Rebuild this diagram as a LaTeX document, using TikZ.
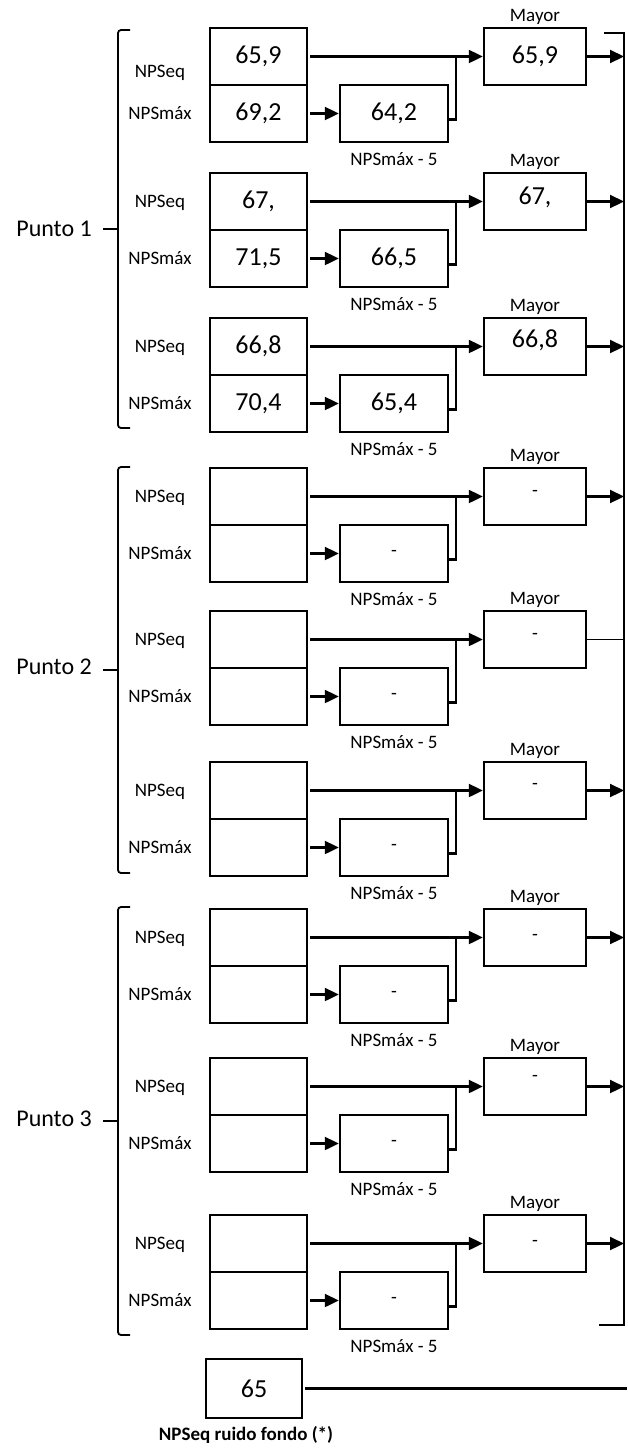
\documentclass[tikz,border=0pt]{standalone}
\usepackage{fontspec}
\setmainfont{Carlito}
\usetikzlibrary{arrows.meta}
\newcommand\valfnt{\fontsize{26}{30}\selectfont}
\newcommand\lblfnt{\fontsize{19}{22}\selectfont}
\newcommand\ptfnt{\fontsize{24}{28}\selectfont}
\newcommand\dsh{{\lblfnt -}}
\begin{document}
\begin{tikzpicture}[x=1pt,y=-1pt,
  vbox/.style={draw,line width=2.4pt,inner sep=0pt,font=\valfnt},
  lbl/.style={inner sep=0pt,font=\lblfnt},
  ptlbl/.style={inner sep=0pt,font=\ptfnt},
  conn/.style={line width=2.2pt},
  thinconn/.style={line width=1.4pt},
  arr/.style={-{Triangle[length=14pt,width=13pt]}},
  brk/.style={line width=1.8pt,rounded corners=3pt},
]
\useasboundingbox[fill=white] (0,0) rectangle (627,1452);
\coordinate (rb) at (624,0);
% right bracket
\draw[line width=2pt] (604,33) -- (624,33) -- (624,1325) -- (599,1325);
% left brackets
\draw[brk] (130,30) -- (118,30) -- (118,428) -- (130,428);
\draw[line width=1.8pt] (103,229) -- (118,229);
\node[ptlbl,anchor=east] (p1) at (92,229) {Punto 1};
\draw[brk] (130,467) -- (118,467) -- (118,873) -- (130,873);
\draw[line width=1.8pt] (103,670) -- (118,670);
\node[ptlbl,anchor=east] (p2) at (92,667) {Punto 2};
\draw[brk] (130,907) -- (118,907) -- (118,1335) -- (130,1335);
\draw[line width=1.8pt] (103,1121) -- (118,1121);
\node[ptlbl,anchor=east] (p3) at (92,1119) {Punto 3};
% groups
\foreach \t/\ea/\mb/\mc/\md/\ms/\ns/\ar in {
  28/{65,9}/{69,2}/{64,2}/{65,9}/0/45/1,
  173/{67,}/{71,5}/{66,5}/{67,}/4/30/1,
  318/{66,8}/{70,4}/{65,4}/{66,8}/6/30/1,
  468/{}/{}/\dsh/\dsh/3/30/1,
  611/{}/{}/\dsh/\dsh/3/30/0,
  762/{}/{}/\dsh/\dsh/4/30/1,
  909/{}/{}/\dsh/\dsh/0/30/1,
  1058/{}/{}/\dsh/\dsh/8/30/1,
  1215/{}/{}/\dsh/\dsh/0/30/1}{
  \node[vbox,minimum width=97pt,minimum height=57pt] (eq\t) at (258.5,\t+28.5) {\ea};
  \node[vbox,minimum width=97pt,minimum height=57pt] (mx\t) at (258.5,\t+85.5) {\mb};
  \node[vbox,minimum width=108pt,minimum height=57pt] (mf\t) at (394,\t+85.5) {\mc};
  \node[vbox,minimum width=102pt,minimum height=57pt] (my\t) at (535,\t+28.5) {};
  \node[inner sep=0pt,font=\valfnt] (myv\t) at ([yshift=\ms pt]my\t.center) {\md};
  \node[lbl] (myl\t) at (535,\t-11) {Mayor};
  \node[lbl] (mfl\t) at (394,\t+131) {NPSmáx - 5};
  \node[lbl] (eql\t) at (160,\t+\ns) {NPSeq};
  \node[lbl] (mxl\t) at (160,\t+85) {NPSmáx};
  \coordinate (j\t) at (456,\t+28.5);
  \draw[conn,arr,shorten <=2pt] (eq\t.east) -- (my\t.west);
  \draw[conn,arr,shorten <=2pt] (mx\t.east) -- (mf\t.west);
  \draw[conn] ([yshift=-6pt]mf\t.east) -| (j\t);
  \ifnum\ar=1
    \draw[conn,arr] (my\t.east) -- (my\t.east -| rb);
  \else
    \draw[thinconn] (my\t.east) -- (my\t.east -| rb);
  \fi
}
% background noise box
\node[vbox,minimum width=96pt,minimum height=59pt] (bg) at (254,1388.5) {65};
\node[inner sep=0pt,font={\lblfnt\bfseries}] (bgl) at (246,1435) {NPSeq ruido fondo (*)};
\coordinate (bge) at (627,1388.5);
\draw[conn,shorten <=2pt] (bg.east) -- (bge);
\end{tikzpicture}
\end{document}
